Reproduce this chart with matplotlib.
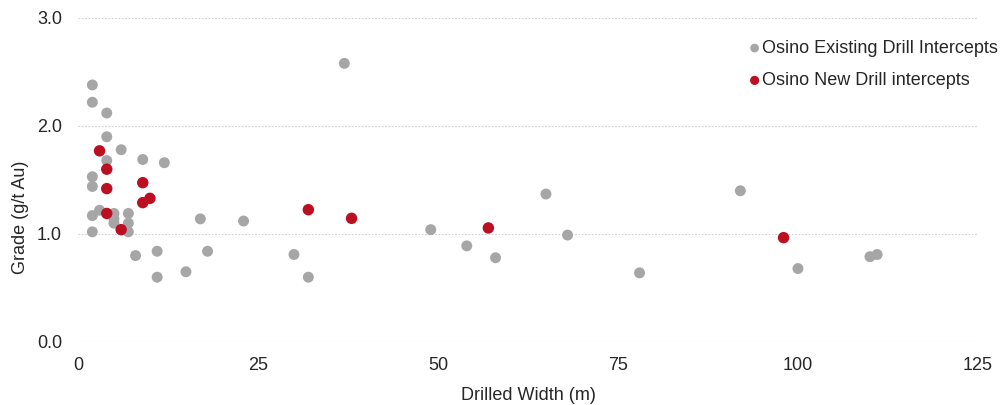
import matplotlib
matplotlib.use("Agg")
import matplotlib.pyplot as plt

plt.rcParams['font.family'] = ['Liberation Sans', 'DejaVu Sans']

existing_width = [2, 2, 4, 4, 6, 4, 9, 12, 2, 2, 3, 2, 5, 5, 5, 7, 7, 7, 2, 17, 8, 11, 11, 15,
                  23, 18, 30, 32, 37, 49, 54, 58, 65, 68, 78, 92, 100, 110, 111]
existing_grade = [2.38, 2.22, 2.12, 1.90, 1.78, 1.68, 1.69, 1.66, 1.53, 1.44, 1.22, 1.17, 1.19, 1.14, 1.10,
                  1.19, 1.10, 1.02, 1.02, 1.14, 0.80, 0.84, 0.60, 0.65,
                  1.12, 0.84, 0.81, 0.60, 2.58, 1.04, 0.89, 0.78, 1.37, 0.99, 0.64, 1.40, 0.68, 0.79, 0.81]

new_width = [3, 4, 4, 9, 10, 9, 4, 6, 32, 38, 57, 98]
new_grade = [1.77, 1.60, 1.42, 1.475, 1.33, 1.29, 1.19, 1.04, 1.225, 1.145, 1.056, 0.966]

x_ticks = [0, 25, 50, 75, 100, 125]
y_ticks = [0.0, 1.0, 2.0, 3.0]

fig = plt.figure(figsize=(10.02, 4.05), dpi=100)
ax = fig.add_axes([0.0778, 0.1556, 0.8982, 0.8])

ax.scatter(existing_width, existing_grade, s=62, color='#A6A6A6', edgecolors='none',
           label='Osino Existing Drill Intercepts', zorder=3)
ax.scatter(new_width, new_grade, s=68, color='#BD0F22', edgecolors='none',
           label='Osino New Drill intercepts', zorder=4)

ax.set_xlim(0, 125)
ax.set_ylim(0, 3.0)
ax.set_xticks(x_ticks)
ax.set_xticklabels([str(t) for t in x_ticks])
ax.set_yticks(y_ticks)
ax.set_yticklabels([f"{t:.1f}" for t in y_ticks])
ax.tick_params(axis='both', length=0, labelsize=13, colors='#262626')
ax.tick_params(axis='y', pad=11.5)
ax.tick_params(axis='x', pad=11)
for s in ax.spines.values():
    s.set_visible(False)
ax.yaxis.grid(True, linestyle=(0, (1.5, 1.5)), color='#D0D0D0', linewidth=0.8)
ax.set_axisbelow(True)

ax.set_xlabel('Drilled Width (m)', fontsize=13, color='#262626', labelpad=9)
ax.set_ylabel('Grade (g/t Au)', fontsize=13, color='#262626')
ax.yaxis.set_label_coords(-0.0633, 0.386)
ax.yaxis.label.set_verticalalignment('center')

leg = ax.legend(loc='upper right', bbox_to_anchor=(1.03, 0.955), frameon=False, fontsize=13,
                handletextpad=0.0, labelspacing=0.85, markerscale=0.8, handlelength=0.8,
                borderaxespad=0)
for t in leg.get_texts():
    t.set_color('#262626')

for c in ax.collections:
    c.set_clip_on(False)

fig.savefig('out.png', dpi=100)
